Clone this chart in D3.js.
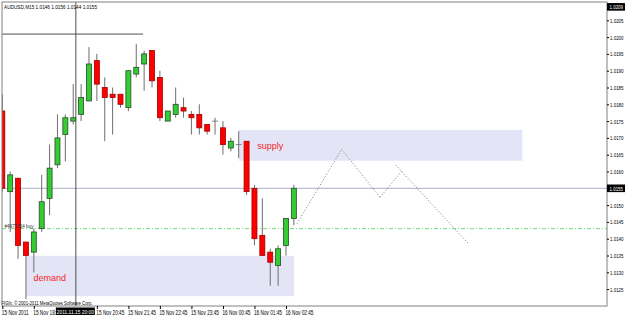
<!DOCTYPE html>
<html>
<head>
<meta charset="utf-8">
<style>
  body { margin: 0; background: #fff; }
  svg { display: block; font-family: "Liberation Sans", Arial, sans-serif; }
  .axis .domain { display: none; }
  .axis .tick line { stroke: #000; }
  .axis .tick text { fill: #000; font-size: 6.5px; }
</style>
</head>
<body>
<svg width="625" height="315"></svg>
<script src="https://d3js.org/d3.v7.min.js"></script>
<script>
  // --- data ---
  const titleText = "AUDUSD,M15  1.0146 1.0156 1.0144 1.0155";
  const copyText = "FIGfx, \u00a9 2001-2011 MetaQuotes Software Corp.";

  const times = [
    "2011-11-15 17:45", "2011-11-15 18:00", "2011-11-15 18:15", "2011-11-15 18:30",
    "2011-11-15 18:45", "2011-11-15 19:00", "2011-11-15 19:15", "2011-11-15 19:30",
    "2011-11-15 19:45", "2011-11-15 20:00", "2011-11-15 20:15", "2011-11-15 20:30",
    "2011-11-15 20:45", "2011-11-15 21:00", "2011-11-15 21:15", "2011-11-15 21:30",
    "2011-11-15 21:45", "2011-11-15 22:00", "2011-11-15 22:15", "2011-11-15 22:30",
    "2011-11-15 22:45", "2011-11-15 23:00", "2011-11-15 23:15", "2011-11-15 23:30",
    "2011-11-15 23:45", "2011-11-16 00:00", "2011-11-16 00:15", "2011-11-16 00:30",
    "2011-11-16 00:45", "2011-11-16 01:00", "2011-11-16 01:15", "2011-11-16 01:30",
    "2011-11-16 01:45", "2011-11-16 02:00", "2011-11-16 02:15", "2011-11-16 02:30",
    "2011-11-16 02:45", "2011-11-16 03:00"
  ];
  const opens = [1.0178, 1.0154, 1.0158, 1.0139, 1.0136, 1.0143, 1.0152, 1.0162, 1.0171, 1.0175,
    1.0177, 1.0181, 1.0193, 1.0185, 1.0183, 1.0183, 1.0179, 1.0189, 1.0192, 1.0196,
    1.0188, 1.0175, 1.0177, 1.0179, 1.0177, 1.0177, 1.0174, 1.0175, 1.0173, 1.0167,
    1.0168, 1.0169, 1.0155, 1.0141, 1.0136, 1.0132, 1.0138, 1.0146];
  const highs = [1.0183, 1.0160, 1.0158, 1.0139, 1.0143, 1.0159, 1.0168, 1.0177, 1.0177, 1.0186,
    1.0186, 1.0197, 1.0195, 1.0188, 1.0185, 1.0183, 1.0190, 1.0198, 1.0196, 1.0196,
    1.0190, 1.0178, 1.0185, 1.0182, 1.0178, 1.0180, 1.0174, 1.0176, 1.0175, 1.0170,
    1.0172, 1.0169, 1.0156, 1.0152, 1.0137, 1.0138, 1.0146, 1.0156];
  const lows = [1.0154, 1.0142, 1.0134, 1.0122, 1.0130, 1.0142, 1.0147, 1.0161, 1.0163, 1.0174,
    1.0175, 1.0181, 1.0181, 1.0169, 1.0171, 1.0179, 1.0178, 1.0188, 1.0184, 1.0185,
    1.0175, 1.0175, 1.0176, 1.0176, 1.0171, 1.0171, 1.0171, 1.0171, 1.0165, 1.0166,
    1.0164, 1.0153, 1.0138, 1.0135, 1.0126, 1.0126, 1.0135, 1.0144];
  const closes = [1.0155, 1.0159, 1.0138, 1.0135, 1.0142, 1.0151, 1.0161, 1.0170, 1.0176, 1.0176,
    1.0182, 1.0192, 1.0186, 1.0182, 1.0182, 1.0180, 1.0190, 1.0191, 1.0195, 1.0187,
    1.0176, 1.0178, 1.0180, 1.0178, 1.0176, 1.0173, 1.0172, 1.0175, 1.0168, 1.0169,
    1.0168, 1.0154, 1.0140, 1.0135, 1.0133, 1.0137, 1.0146, 1.0155];

  // the 1.0155 / 1.0210 tick labels sit under the highlighted boxes, 19:45 under the cursor date
  const priceTicks = [1.0125, 1.0130, 1.0135, 1.0140, 1.0145, 1.0150, 1.0160, 1.0165,
    1.0170, 1.0175, 1.0180, 1.0185, 1.0190, 1.0195, 1.0200, 1.0205];
  const timeTicks = ["2011-11-15 17:45", "2011-11-15 18:45", "2011-11-15 20:45",
    "2011-11-15 21:45", "2011-11-15 22:45", "2011-11-15 23:45", "2011-11-16 00:45",
    "2011-11-16 01:45", "2011-11-16 02:45"];

  const bidPrice = 1.0155;
  const topPrice = 1.0209;
  const orderPrice = 1.0143;
  const orderLabel = "#4977054 buy";

  // zones: [from, to, top price, bottom price, label]
  const supplyZone = ["2011-11-16 01:15", "2011-11-16 10:15", 1.01724, 1.01632, "supply"];
  const demandZone = ["2011-11-15 18:30", "2011-11-16 03:00", 1.01349, 1.01229, "demand"];

  // projected path (dotted trend lines): [t1, p1, t2, p2]
  const trendLines = [
    ["2011-11-16 03:06", 1.01445, "2011-11-16 04:31", 1.01666],
    ["2011-11-16 04:31", 1.01666, "2011-11-16 05:44", 1.01523],
    ["2011-11-16 05:44", 1.01523, "2011-11-16 06:27", 1.01605],
    ["2011-11-16 06:14", 1.01619, "2011-11-16 08:32", 1.01386]
  ];

  // crosshair
  const crossTime = "2011-11-15 20:05";
  const crossPrice = 1.02009;
  const crossEnd = "2011-11-15 22:13";
  const crossLabel = "2011.11.15 20:00";

  // --- layout ---
  const frame = { left: 2, top: 2, right: 607, bottom: 306 };
  const parse = d3.timeParse("%Y-%m-%d %H:%M");

  const bars = times.map((t, i) => ({
    t: parse(t), o: opens[i], h: highs[i], l: lows[i], c: closes[i]
  }));

  const svg = d3.select("svg");

  let x = d3.scaleTime()
    .domain([parse(times[0]), parse(times[times.length - 1])])
    .range([2.3, 2.3 + 37 * 7.88]);

  let y = d3.scaleLinear()
    .domain([1.0125, 1.0210])
    .range([289.1, 3.5]);

  svg.append("clipPath").attr("id", "clip")
    .append("rect").attr("x", frame.left).attr("y", frame.top)
    .attr("width", frame.right - frame.left).attr("height", frame.bottom - frame.top);

  let plot = svg.append("g").attr("clip-path", "url(#clip)");

  // zones
  for (const z of [supplyZone, demandZone]) {
    plot.append("rect")
      .attr("x", x(parse(z[0])))
      .attr("y", y(z[2]))
      .attr("width", x(parse(z[1])) - x(parse(z[0])))
      .attr("height", y(z[3]) - y(z[2]))
      .attr("fill", "#e4e4f7");
  }

  // bid line and order line
  plot.append("line")
    .attr("x1", frame.left).attr("x2", frame.right)
    .attr("y1", y(bidPrice)).attr("y2", y(bidPrice))
    .attr("stroke", "#a8b2c0").attr("stroke-width", 1);

  plot.append("line")
    .attr("x1", frame.left).attr("x2", frame.right)
    .attr("y1", y(orderPrice)).attr("y2", y(orderPrice))
    .attr("stroke", "#78dc78").attr("stroke-width", 1)
    .attr("stroke-dasharray", "4,2,1,2");

  // crosshair
  plot.append("line")
    .attr("x1", x(parse(crossTime))).attr("x2", x(parse(crossTime)))
    .attr("y1", frame.top).attr("y2", frame.bottom)
    .attr("stroke", "#505050");
  plot.append("line")
    .attr("x1", frame.left).attr("x2", x(parse(crossEnd)))
    .attr("y1", y(crossPrice)).attr("y2", y(crossPrice))
    .attr("stroke", "#505050");

  // candles
  let candle = plot.append("g").selectAll("g")
    .data(bars)
    .join("g");

  candle.append("line")
    .attr("x1", d => x(d.t)).attr("x2", d => x(d.t))
    .attr("y1", d => y(d.h)).attr("y2", d => y(d.l))
    .attr("stroke", "#6e6e6e");

  candle.append("rect")
    .attr("x", d => x(d.t) - 2.5)
    .attr("y", d => y(Math.max(d.o, d.c)))
    .attr("width", 5)
    .attr("height", d => Math.max(0.01, Math.abs(y(d.o) - y(d.c))))
    .attr("fill", d => d.c > d.o ? "#33cc33" : d.c < d.o ? "#ff0000" : "#6e6e6e")
    .attr("stroke", d => d.c > d.o ? "#2a4a2a" : d.c < d.o ? "#a00000" : "#6e6e6e")
    .attr("stroke-width", 0.8);

  // dotted projection
  plot.append("g").selectAll("line")
    .data(trendLines)
    .join("line")
    .attr("x1", d => x(parse(d[0]))).attr("y1", d => y(d[1]))
    .attr("x2", d => x(parse(d[2]))).attr("y2", d => y(d[3]))
    .attr("stroke", "#7a7a7a")
    .attr("stroke-width", 1)
    .attr("stroke-dasharray", "1,2");

  // zone labels
  for (const z of [supplyZone, demandZone]) {
    plot.append("text")
      .attr("x", x(parse(z[0])) + (z === supplyZone ? 18.5 : 7.5))
      .attr("y", (z === supplyZone ? y(z[2]) + 19 : y(z[2]) + 25.5))
      .attr("fill", "#f01e1e")
      .style("font-size", "9px")
      .text(z[4]);
  }

  // texts inside the chart
  plot.append("text")
    .attr("x", 4.5).attr("y", y(orderPrice) - 0.6)
    .style("font-size", "5px").attr("fill", "#333")
    .attr("textLength", 29).attr("lengthAdjust", "spacingAndGlyphs")
    .text(orderLabel);

  svg.append("text")
    .attr("x", 4).attr("y", 8.5)
    .style("font-size", "6px")
    .attr("textLength", 93).attr("lengthAdjust", "spacingAndGlyphs")
    .text(titleText);

  svg.append("text")
    .attr("x", 1.5).attr("y", 304.5)
    .style("font-size", "5.5px")
    .attr("textLength", 91).attr("lengthAdjust", "spacingAndGlyphs")
    .text(copyText);

  // frame
  svg.append("rect")
    .attr("x", frame.left).attr("y", frame.top)
    .attr("width", frame.right - frame.left).attr("height", frame.bottom - frame.top)
    .attr("fill", "none").attr("stroke", "#808080");

  // price axis
  let yAxis = svg.append("g")
    .attr("class", "axis")
    .attr("transform", `translate(${frame.right},0)`)
    .call(d3.axisRight(y).tickValues(priceTicks).tickSize(2).tickPadding(1)
      .tickFormat(d3.format(".4f")));
  yAxis.selectAll(".tick text")
    .style("font-size", "6px")
    .attr("textLength", 13.5).attr("lengthAdjust", "spacingAndGlyphs");

  // time axis
  let fmtFirst = d3.timeFormat("%-d %b %Y");
  let fmt = d3.timeFormat("%-d %b %H:%M");
  let xAxis = svg.append("g")
    .attr("class", "axis")
    .attr("transform", `translate(0,${frame.bottom})`)
    .call(d3.axisBottom(x).tickValues(timeTicks.map(parse)).tickSize(3).tickPadding(1)
      .tickFormat((d, i) => i === 0 ? fmtFirst(d) : fmt(d)));
  xAxis.selectAll(".tick text")
    .attr("text-anchor", "start")
    .attr("x", -1)
    .attr("dy", "0.71em")
    .attr("textLength", (d, i) => i === 0 ? 27 : 28)
    .attr("lengthAdjust", "spacingAndGlyphs");

  // highlighted labels
  function priceBox(p) {
    svg.append("rect")
      .attr("x", frame.right).attr("y", y(p) - 3.8)
      .attr("width", 18).attr("height", 7.6).attr("fill", "#000");
    svg.append("text")
      .attr("x", frame.right + 2.5).attr("y", y(p) + 2.2)
      .attr("fill", "#fff").style("font-size", "6px")
      .attr("textLength", 13.5).attr("lengthAdjust", "spacingAndGlyphs")
      .text(d3.format(".4f")(p));
  }
  priceBox(topPrice);
  priceBox(bidPrice);

  let cx = x(parse(crossTime));
  svg.append("rect")
    .attr("x", cx - 20).attr("y", frame.bottom + 1.5)
    .attr("width", 39).attr("height", 7.5).attr("fill", "#000");
  svg.append("text")
    .attr("x", cx - 19).attr("y", frame.bottom + 7.6)
    .attr("fill", "#fff").style("font-size", "6px")
    .attr("textLength", 37).attr("lengthAdjust", "spacingAndGlyphs")
    .text(crossLabel);
</script>
</body>
</html>
